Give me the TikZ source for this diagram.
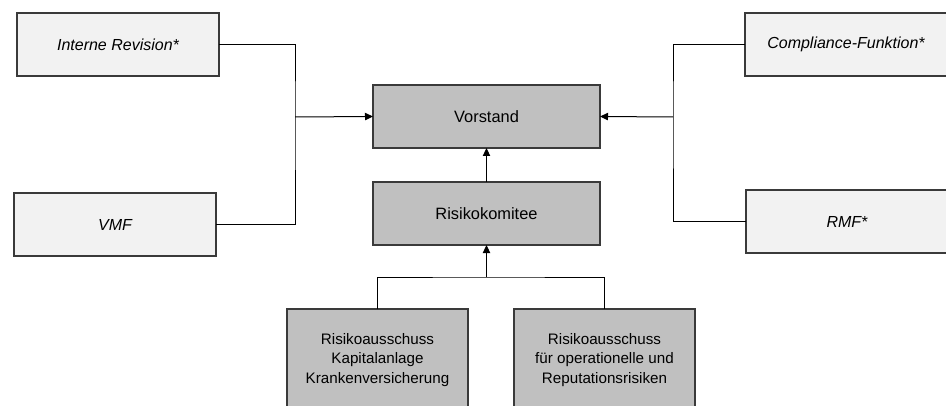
\documentclass[tikz,border=0pt]{standalone}
\usepackage{fontspec}
\setmainfont{Liberation Sans}
\usetikzlibrary{arrows.meta}
\definecolor{lightbox}{HTML}{F2F2F2}
\definecolor{darkbox}{HTML}{C0C0C0}
\definecolor{boxline}{HTML}{3A3A3A}
\tikzset{
  base/.style={draw=boxline, line width=0.8pt, inner sep=0pt, outer sep=0pt, align=center},
  outerbox/.style={base, fill=lightbox, minimum width=151.5pt, minimum height=47.25pt, font=\fontsize{12}{15}\selectfont\itshape},
  topbox/.style={base, fill=darkbox, minimum width=170.25pt, minimum height=47.25pt, font=\fontsize{12.3}{15}\selectfont},
  subbox/.style={base, fill=darkbox, minimum width=135.75pt, minimum height=76.5pt, font=\fontsize{11.4}{14.5}\selectfont},
  conn/.style={draw=black, line width=0.75pt},
  arr/.style={conn, -{Triangle[length=6pt,width=5.5pt]}}
}
\begin{document}
\begin{tikzpicture}[x=0.75pt,y=-0.75pt]
\useasboundingbox (0,0) rectangle (946,406);
\node[outerbox] (ir) at (118,44.5) {Interne Revision*};
\node[outerbox] (vmf) at (115,224.5) {VMF};
\node[outerbox] (cf) at (846,44.5) {Compliance-Funktion*};
\node[outerbox] (rmf) at (847,221.5) {RMF*};
\node[topbox] (vor) at (486.5,116.5) {Vorstand};
\node[topbox] (rk) at (486.5,213.5) {Risikokomitee};
\node[subbox] (rak) at (377.5,360) {Risikoausschuss\\Kapitalanlage\\Krankenversicherung};
\node[subbox] (ror) at (604.5,360) {Risikoausschuss\\für operationelle und\\Reputationsrisiken};
\coordinate (lj) at (295,117);
\coordinate (rj) at (673,117);
\coordinate (bj) at (486.5,277);
% left group
\draw[conn] (ir.east) -| (lj) |- (vmf.east);
\draw[arr] (lj) -- (vor.west);
% right group
\draw[conn] (cf.west) -| (rj) |- (rmf.west);
\draw[arr] (rj) -- (vor.east);
% center
\draw[arr] (rk.north) -- (vor.south);
\draw[conn] (rak.north) |- (bj) -| (ror.north);
\draw[arr] (bj) -- (rk.south);
\end{tikzpicture}
\end{document}
